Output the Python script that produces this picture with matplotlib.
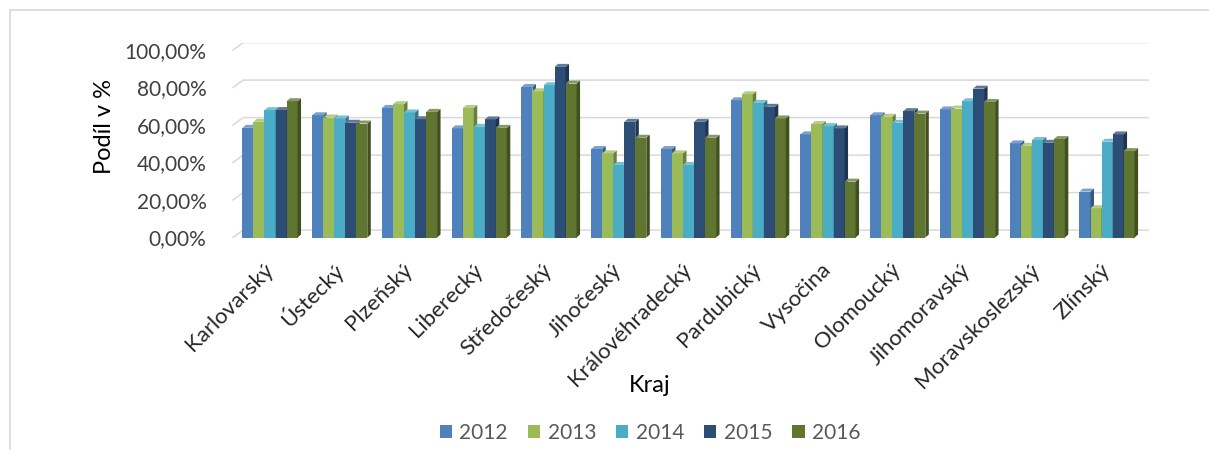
import matplotlib
matplotlib.use("Agg")
import matplotlib.pyplot as plt
from matplotlib.patches import Rectangle
from matplotlib.colors import to_rgb
import numpy as np

plt.rcParams['font.family'] = ['Lato', 'DejaVu Sans']

# data (share in %)
kraje = ["Karlovarský", "Ústecký", "Plzeňský", "Liberecký", "Středočeský",
         "Jihočeský", "Královéhradecký", "Pardubický", "Vysočina", "Olomoucký",
         "Jihomoravský", "Moravskoslezský", "Zlínský"]
roky = ["2012", "2013", "2014", "2015", "2016"]
v2012 = [58.5, 65.2, 69.1, 58.2, 80.3, 47.2, 47.2, 73.2, 55.0, 65.2, 68.3, 50.2, 24.5]
v2013 = [61.7, 64.0, 71.1, 69.1, 78.0, 44.9, 44.9, 76.4, 60.5, 64.4, 68.8, 48.9, 15.6]
v2014 = [67.9, 63.5, 66.7, 59.0, 81.2, 38.7, 38.7, 71.8, 59.4, 61.2, 72.7, 52.0, 51.1]
v2015 = [68.0, 61.2, 63.1, 63.0, 91.0, 61.7, 61.7, 69.7, 58.2, 67.4, 79.4, 50.5, 55.0]
v2016 = [72.7, 60.8, 67.0, 58.5, 82.1, 53.2, 53.2, 63.5, 29.8, 66.1, 72.3, 52.5, 46.1]
serie = [v2012, v2013, v2014, v2015, v2016]
barvy = ['#4F81BD', '#9BBB59', '#4BACC6', '#2C4D75', '#5F7530']
yticks = [0, 20, 40, 60, 80, 100]


def shade(c, f):
    r, g, b = to_rgb(c)
    if f < 1:
        return (r * f, g * f, b * f)
    return tuple(min(1, x + (1 - x) * (f - 1)) for x in (r, g, b))


fig = plt.figure(figsize=(12.09, 4.5), dpi=100)
# outer chart frame (right/bottom edge cut off in the screenshot)
fig.patches.append(Rectangle((10 / 1209, -0.1), 1.2, 1 - 10 / 450 + 0.1,
                             transform=fig.transFigure, fill=False,
                             edgecolor='#D9D9D9', linewidth=1.2))

ax = fig.add_axes([0.19024, 0.4722, 0.76096, 0.4333])
ax.set_xlim(-0.5735, 12.616)
ax.set_ylim(0, 104)
for s in ax.spines.values():
    s.set_visible(False)

# 3D-like back wall gridlines
x_front, x_back, x_end = -0.530, -0.387, 12.588
wall_dy = 3.95
for v in yticks:
    ax.plot([x_front, x_back, x_end], [v, v + wall_dy, v + wall_dy],
            color='#D9D9D9', lw=1.1, zorder=0)

x = np.arange(len(kraje))
n = len(roky)
bw = 0.158
start = -bw * n / 2
ddx, ddy = 0.05, 1.6
for i, (vals, c) in enumerate(zip(serie, barvy)):
    lefts = x + start + i * bw
    ax.bar(lefts, vals, width=bw, align='edge', color=c, label=roky[i],
           linewidth=0, zorder=2)
    for l, h in zip(lefts, vals):
        r = l + bw
        ax.fill([r, r, r + ddx, r + ddx], [0, h, h + ddy, ddy],
                color=shade(c, 0.68), lw=0, zorder=2)
        ax.fill([l, l + ddx, r + ddx, r], [h, h + ddy, h + ddy, h],
                color=shade(c, 1.25), lw=0, zorder=2)

ax.set_yticks(yticks)
ax.set_yticklabels([f"{v:.2f}%".replace('.', ',') for v in yticks],
                   fontsize=15, color='#404040')
ax.tick_params(axis='y', length=0, pad=17)
ax.set_xticks(x)
ax.set_xticklabels(kraje, rotation=45, ha='right', va='center',
                   rotation_mode='anchor', fontsize=16, color='#262626')
ax.tick_params(axis='x', length=0, pad=21)

fig.text(104 / 1209, 1 - 127 / 450, "Podíl v %", rotation=90, ha='center',
         va='center', fontsize=17, color='black')
fig.text(650 / 1209, 1 - 385 / 450, "Kraj", ha='center', va='center',
         fontsize=17, color='black')

leg = fig.legend(loc='center', bbox_to_anchor=(650 / 1209, 1 - 433 / 450),
                 ncol=5, frameon=False, fontsize=15, handlelength=0.6,
                 handleheight=0.6, handletextpad=0.35, columnspacing=0.95)
for t in leg.get_texts():
    t.set_color('#595959')

fig.savefig("out.png", dpi=100)
